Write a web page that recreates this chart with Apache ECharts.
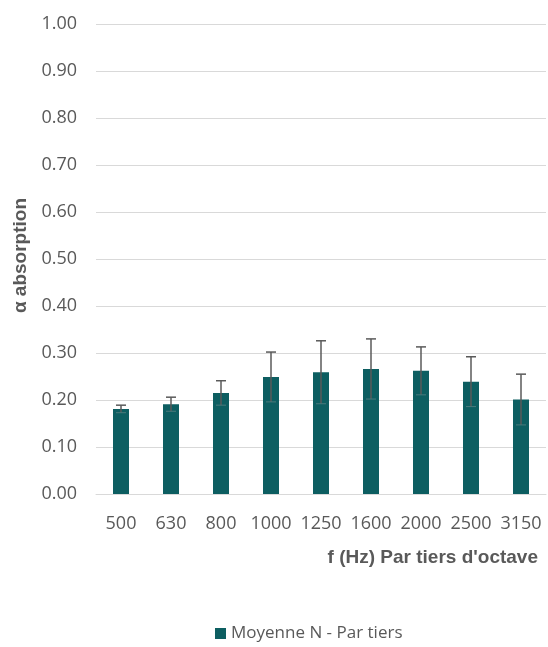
<!DOCTYPE html>
<html>
<head>
<meta charset="utf-8">
<script src="https://cdn.jsdelivr.net/npm/echarts@6/dist/echarts.min.js"></script>
<style>html,body{margin:0;padding:0;background:#fff;}#c{width:548px;height:647px;}</style>
</head>
<body>
<div id="c"></div>
<script>
const categories = ['500', '630', '800', '1000', '1250', '1600', '2000', '2500', '3150'];
const values = [0.181, 0.191, 0.215, 0.249, 0.259, 0.266, 0.262, 0.239, 0.201];
const errors = [0.008, 0.015, 0.026, 0.053, 0.067, 0.064, 0.051, 0.053, 0.054];
const seriesName = 'Moyenne N - Par tiers';
const xAxisTitle = "f (Hz) Par tiers d'octave";
const yAxisTitle = 'α absorption';

const chart = echarts.init(document.getElementById('c'), null, {renderer: 'canvas'});
const errData = values.map((v, i) => [i, v - errors[i], v + errors[i]]);
const textColor = '#595959';
const font = 'Open Sans';

chart.setOption({
  animation: false,
  backgroundColor: '#fff',
  grid: {left: 96, right: 2, top: 24, bottom: 153},
  xAxis: {
    type: 'category',
    data: categories,
    axisLine: {lineStyle: {color: '#d9d9d9', width: 1}},
    axisTick: {show: false},
    axisLabel: {color: textColor, fontFamily: font, fontSize: 18, margin: 21, interval: 0, hideOverlap: false}
  },
  yAxis: {
    type: 'value',
    min: 0, max: 1, interval: 0.1,
    axisLine: {show: false},
    axisTick: {show: false},
    splitLine: {lineStyle: {color: '#d9d9d9', width: 1}},
    axisLabel: {color: textColor, fontFamily: font, fontSize: 18, margin: 19,
      formatter: v => v.toFixed(2)}
  },
  legend: {
    left: 210, bottom: 0,
    icon: 'rect', itemWidth: 11, itemHeight: 11, itemGap: 6,
    textStyle: {color: textColor, fontFamily: font, fontSize: 17},
    data: [seriesName]
  },
  graphic: [
    {type: 'text', right: 10, top: 548,
      style: {text: xAxisTitle, fill: textColor, font: 'bold 19px "Liberation Sans"'}},
    {type: 'text', left: 11, top: 198, rotation: Math.PI / 2,
      style: {text: yAxisTitle, fill: textColor, font: 'bold 19px "Liberation Sans"'}}
  ],
  series: [
    {
      name: seriesName,
      type: 'bar',
      data: values,
      barWidth: 16,
      itemStyle: {color: '#0d5e61'}
    },
    {
      type: 'custom',
      name: 'err',
      data: errData,
      z: 10,
      renderItem: function (params, api) {
        const x = api.coord([api.value(0), 0])[0];
        const lo = api.coord([api.value(0), api.value(1)])[1];
        const hi = api.coord([api.value(0), api.value(2)])[1];
        const hw = 5;
        const st = {stroke: '#5a5a5a', lineWidth: 1.5, fill: null};
        return {type: 'group', children: [
          {type: 'line', shape: {x1: x, y1: lo, x2: x, y2: hi}, style: st},
          {type: 'line', shape: {x1: x - hw, y1: hi, x2: x + hw, y2: hi}, style: st},
          {type: 'line', shape: {x1: x - hw, y1: lo, x2: x + hw, y2: lo}, style: {stroke: '#4a7a7c', lineWidth: 1}}
        ]};
      }
    }
  ]
});
</script>
</body>
</html>
